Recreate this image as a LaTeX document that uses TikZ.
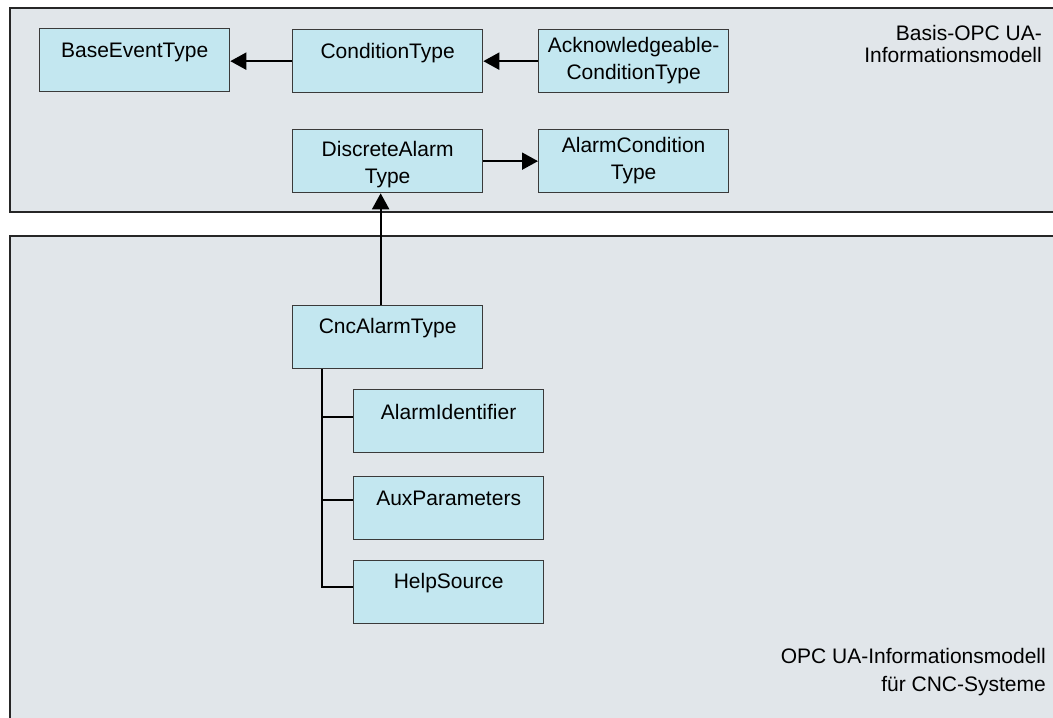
\documentclass[tikz,border=0pt]{standalone}
\usepackage{fontspec}
\setmainfont{Liberation Sans}
\usetikzlibrary{arrows.meta}
\definecolor{panelfill}{HTML}{E1E6EA}
\definecolor{boxfill}{HTML}{C3E7F0}
\definecolor{boxline}{HTML}{3A3A3A}
\newcommand{\bxt}[2]{\parbox[c][63pt][t]{190pt}{\centering\vspace*{#1}#2\par}}
\begin{document}
\begin{tikzpicture}[x=1pt,y=-1pt,
 panel/.style={draw=black!85, line width=2pt, fill=panelfill},
 typebox/.style={draw=boxline, line width=1.3pt, fill=boxfill, inner sep=0pt, anchor=north west, font=\fontsize{21}{27}\selectfont},
 conn/.style={line width=2pt, draw=black},
 arr/.style={conn, -{Triangle[length=16pt,width=17pt]}},
 plabel/.style={inner sep=0pt, align=right, anchor=north east}]
\useasboundingbox (0,0) rectangle (1053,718);
\fill[white] (0,0) rectangle (1053,718);
\filldraw[panel] (10,8) rectangle (1070,212);
\filldraw[panel] (10,236) rectangle (1070,730);

\node[typebox] (base) at (39,28) {\bxt{14pt}{BaseEventType}};
\node[typebox] (cond) at (292,29) {\bxt{14pt}{ConditionType}};
\node[typebox] (ack) at (538,29) {\bxt{8pt}{Acknowledgeable-\\ConditionType}};
\node[typebox] (disc) at (292,129) {\bxt{12pt}{DiscreteAlarm\\Type}};
\node[typebox] (alarmc) at (538,129) {\bxt{8pt}{AlarmCondition\\Type}};
\node[typebox] (cnc) at (292,305) {\bxt{13pt}{CncAlarmType}};
\node[typebox] (aid) at (353,389) {\bxt{15pt}{AlarmIdentifier}};
\node[typebox] (aux) at (353,476) {\bxt{14pt}{AuxParameters}};
\node[typebox] (help) at (353,560) {\bxt{13pt}{HelpSource}};

\draw[arr] (cond.west) -- (cond.west -| base.east);
\draw[arr] (ack.west) -- (ack.west -| cond.east);
\draw[arr] (disc.east) -- (disc.east -| alarmc.west);
\draw[arr] ([xshift=-7pt]cnc.north) -- ([xshift=-7pt]disc.south);

\coordinate (t0) at ([xshift=-65.5pt]cnc.south);
\coordinate (a1) at ([yshift=4.5pt]aid.west);
\coordinate (a2) at ([yshift=8pt]aux.west);
\coordinate (a3) at ([yshift=5.5pt]help.west);
\draw[conn] (t0) |- (a3);
\draw[conn] (a1 -| t0) -- (a1);
\draw[conn] (a2 -| t0) -- (a2);

\node[plabel, font=\fontsize{21}{22}\selectfont] (toplabel) at (1042,25) {Basis-OPC UA-\\Informationsmodell};
\node[plabel, font=\fontsize{21}{28}\selectfont] (botlabel) at (1046,648) {OPC UA-Informationsmodell\\für CNC-Systeme};
\end{tikzpicture}
\end{document}
